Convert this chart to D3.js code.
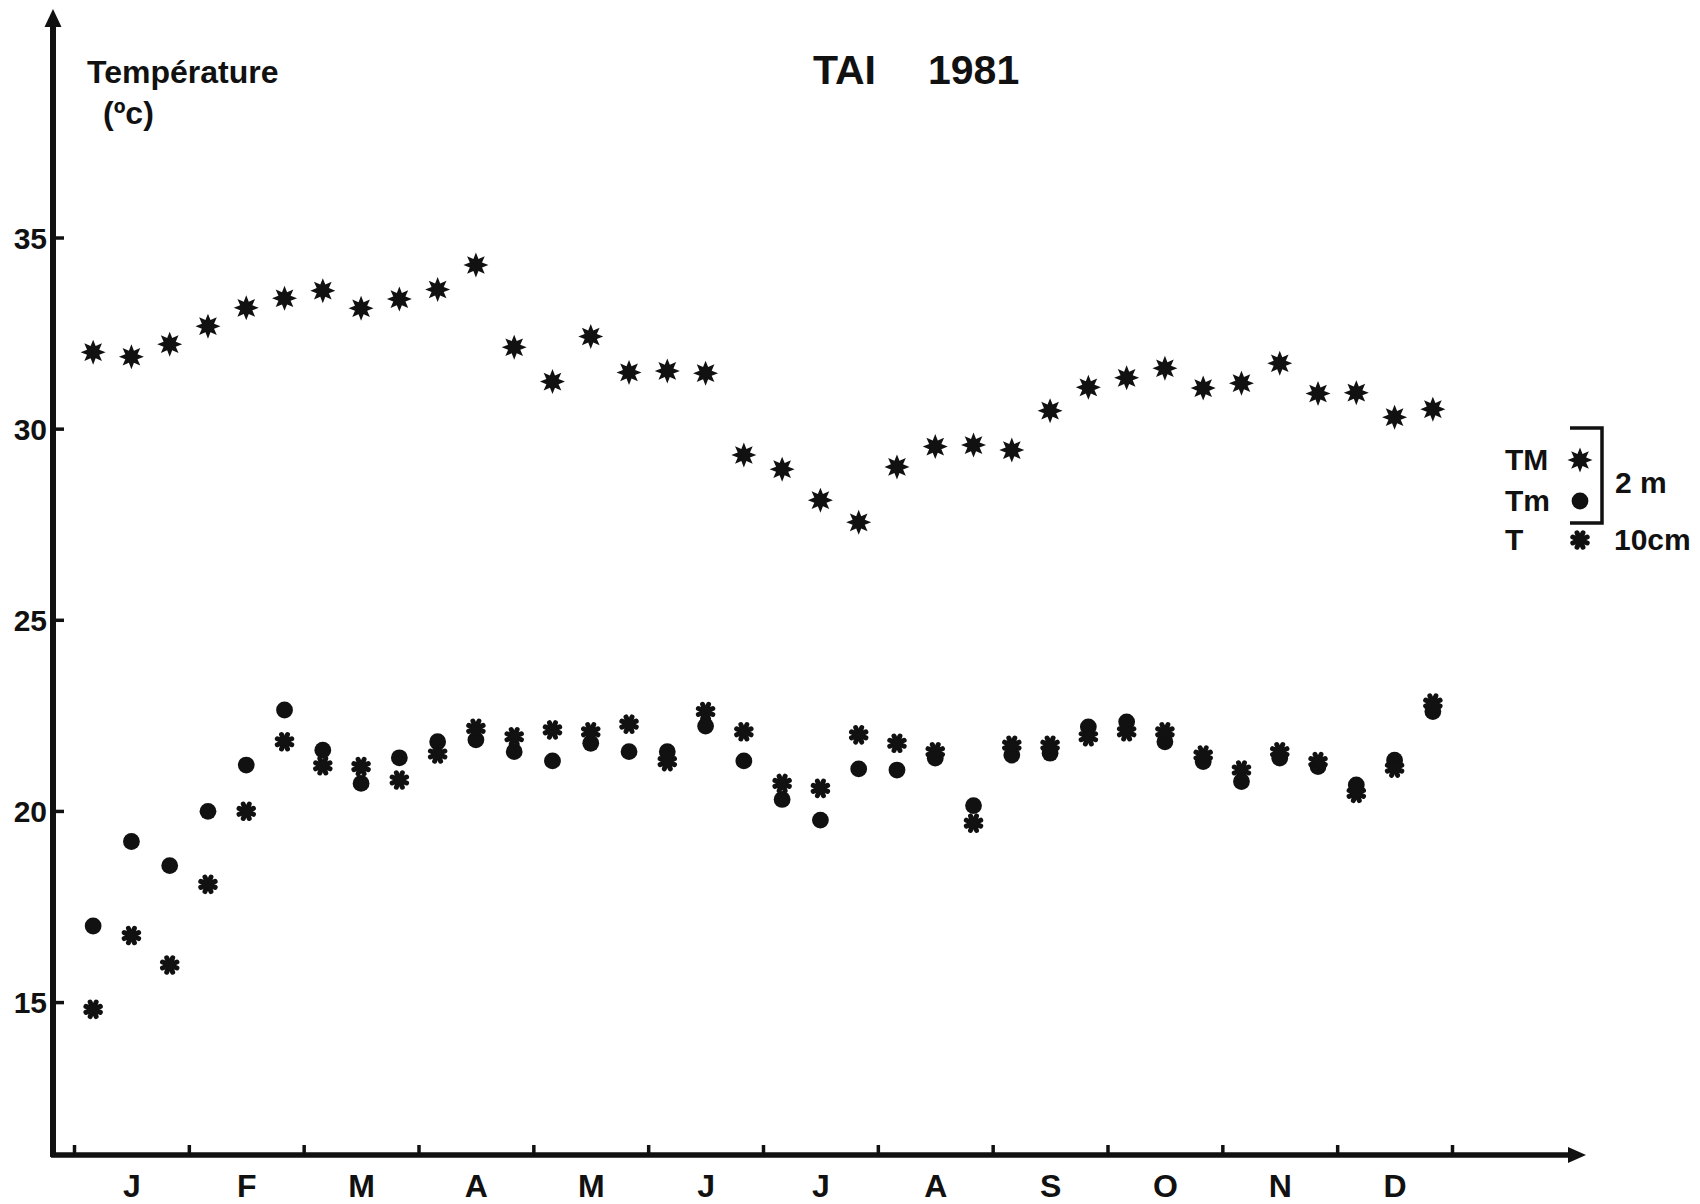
<!DOCTYPE html>
<html>
<head>
<meta charset="utf-8">
<script src="https://cdn.jsdelivr.net/npm/d3@7"></script>
<style>
	html, body { margin: 0; padding: 0; background: #fff; }
	svg { display: block; }
	text { font-family: "Liberation Sans", Arial, sans-serif; font-weight: bold; fill: #111; }
</style>
</head>
<body>
<script>
// month initials and temperatures per decade (10-day period), TAI 1981
var months = ['J', 'F', 'M', 'A', 'M', 'J', 'J', 'A', 'S', 'O', 'N', 'D'];
var yTicks = [15, 20, 25, 30, 35];

// TM : max temperature at 2 m
var tMax = [32.0, 31.88, 32.21, 32.68, 33.16, 33.41, 33.61, 33.15, 33.39, 33.64, 34.28, 32.13,
	31.23, 32.41, 31.47, 31.51, 31.45, 29.31, 28.94, 28.13, 27.55, 29.0, 29.53, 29.57,
	29.44, 30.47, 31.08, 31.33, 31.58, 31.06, 31.19, 31.71, 30.92, 30.94, 30.3, 30.51];
// Tm : min temperature at 2 m
var tMin = [16.99, 19.2, 18.57, 19.99, 21.2, 22.64, 21.59, 20.72, 21.39, 21.81, 21.86, 21.55,
	21.31, 21.77, 21.55, 21.55, 22.22, 21.31, 20.30, 19.76, 21.1, 21.07, 21.38, 20.14,
	21.46, 21.51, 22.2, 22.33, 21.81, 21.29, 20.77, 21.38, 21.16, 20.68, 21.33, 22.60];
// T : temperature at 10 cm
var t10 = [14.81, 16.74, 15.97, 18.08, 19.99, 21.81, 21.18, 21.16, 20.81, 21.49, 22.16, 21.94,
	22.12, 22.07, 22.27, 21.29, 22.60, 22.07, 20.72, 20.59, 21.99, 21.77, 21.55, 19.68,
	21.72, 21.72, 21.94, 22.07, 22.07, 21.46, 21.07, 21.55, 21.29, 20.46, 21.12, 22.82];

var W = 1700, H = 1204;
var axisX = 53, axisY = 1155;

var svg = d3.select('body').append('svg')
	.attr('width', W)
	.attr('height', H);

var x = d3.scaleLinear().domain([0, 36]).range([74, 1452]);
var y = d3.scaleLinear().domain([11, 35]).range([axisY, 237.5]);

// marker shapes
function starPath(ro, ri, n) {
	var pts = [];
	for (var k = 0; k < 2 * n; k++) {
		var a = Math.PI * k / n - Math.PI / 2;
		var r = k % 2 ? ri : ro;
		pts.push([r * Math.cos(a), r * Math.sin(a)]);
	}
	return d3.line()(pts) + 'Z';
}
var starD = starPath(12.5, 6.6, 8);

function drawStar(g) {
	g.append('path').attr('d', starD).style('fill', '#111');
}
function drawDot(g) {
	g.append('circle').attr('r', 8.4).style('fill', '#111');
}
function drawAsterisk(g) {
	for (var k = 0; k < 8; k++) {
		var a = Math.PI * k / 4 + Math.PI / 8;
		g.append('line')
			.attr('x1', 0).attr('y1', 0)
			.attr('x2', 7.8 * Math.cos(a)).attr('y2', 7.8 * Math.sin(a))
			.style('stroke', '#111')
			.style('stroke-width', 5)
			.style('stroke-linecap', 'round');
	}
	g.append('circle').attr('r', 5.8).style('fill', '#111');
}

// axes (ticks via d3 axis, lines drawn with arrows)
var yAxis = d3.axisLeft(y)
	.tickValues(yTicks)
	.tickSizeInner(-11)
	.tickSizeOuter(0)
	.tickPadding(6);
var gy = svg.append('g')
	.attr('transform', 'translate(' + axisX + ',0)')
	.call(yAxis);
gy.select('.domain').remove();
gy.selectAll('.tick line').style('stroke', '#111').style('stroke-width', 3.5);
gy.selectAll('.tick text')
	.style('font-size', '30px')
	.attr('dy', '0.36em');

var xAxis = d3.axisBottom(x)
	.tickValues(d3.range(0, 37, 3))
	.tickSizeInner(-10)
	.tickSizeOuter(0)
	.tickFormat('');
var gx = svg.append('g')
	.attr('transform', 'translate(0,' + axisY + ')')
	.call(xAxis);
gx.select('.domain').remove();
gx.selectAll('.tick line').style('stroke', '#111').style('stroke-width', 3.5);

var xLabels = d3.axisBottom(x)
	.tickValues(months.map(function(d, i){ return 3 * i + 1.5; }))
	.tickSize(0)
	.tickPadding(19)
	.tickFormat(function(d, i){ return months[i]; });
var gl = svg.append('g')
	.attr('transform', 'translate(0,' + axisY + ')')
	.call(xLabels);
gl.select('.domain').remove();
gl.selectAll('.tick text').style('font-size', '32px');

// axis lines with arrow heads
svg.append('line')
	.attr('x1', axisX).attr('y1', axisY + 2)
	.attr('x2', axisX).attr('y2', 22)
	.style('stroke', '#111').style('stroke-width', 6);
svg.append('path')
	.attr('d', 'M' + axisX + ',9L' + (axisX - 8.5) + ',27L' + (axisX + 8.5) + ',27Z')
	.style('fill', '#111');
svg.append('line')
	.attr('x1', axisX - 2).attr('y1', axisY)
	.attr('x2', 1572).attr('y2', axisY)
	.style('stroke', '#111').style('stroke-width', 5.5);
svg.append('path')
	.attr('d', 'M1586,' + axisY + 'L1568,' + (axisY - 8) + 'L1568,' + (axisY + 8) + 'Z')
	.style('fill', '#111');

// data points
var series = [
	{ values: tMax, draw: drawStar },
	{ values: tMin, draw: drawDot },
	{ values: t10, draw: drawAsterisk }
];
series.forEach(function(s) {
	svg.append('g').selectAll('g')
		.data(s.values)
		.enter().append('g')
		.attr('transform', function(d, i){ return 'translate(' + x(i + 0.5) + ',' + y(d) + ')'; })
		.each(function() { s.draw(d3.select(this)); });
});

// titles
svg.append('text').attr('x', 87).attr('y', 83)
	.style('font-size', '32px').text('Température');
svg.append('text').attr('x', 103).attr('y', 124)
	.style('font-size', '32px').text('(ºc)');
svg.append('text').attr('x', 813).attr('y', 84)
	.style('font-size', '41px').text('TAI');
svg.append('text').attr('x', 928).attr('y', 84)
	.style('font-size', '41px').text('1981');

// legend
var legend = svg.append('g');
var legendRows = [
	{ label: 'TM', y: 460, draw: drawStar },
	{ label: 'Tm', y: 501, draw: drawDot },
	{ label: 'T', y: 540, draw: drawAsterisk }
];
legendRows.forEach(function(r) {
	legend.append('text').attr('x', 1505).attr('y', r.y + 10)
		.style('font-size', '30px').text(r.label);
	var g = legend.append('g').attr('transform', 'translate(1580,' + r.y + ')');
	r.draw(g);
});
legend.append('path')
	.attr('d', 'M1570,428L1602,428L1602,523L1570,523')
	.style('fill', 'none').style('stroke', '#111').style('stroke-width', 3.5);
legend.append('text').attr('x', 1615).attr('y', 493)
	.style('font-size', '30px').text('2 m');
legend.append('text').attr('x', 1614).attr('y', 550)
	.style('font-size', '30px').text('10cm');
</script>
</body>
</html>
